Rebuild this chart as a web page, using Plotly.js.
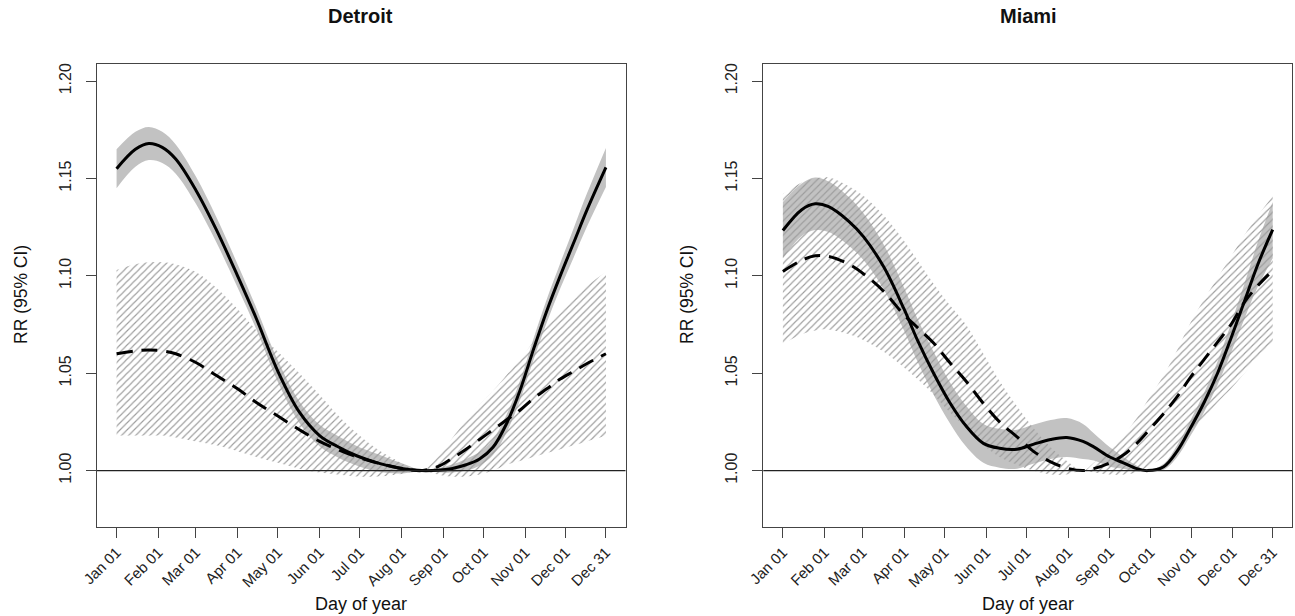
<!DOCTYPE html>
<html>
<head>
<meta charset="utf-8">
<script src="https://cdn.plot.ly/plotly-3.0.1.min.js"></script>
<style>
  html, body { margin: 0; padding: 0; background: #fff; }
  #chart { width: 1295px; height: 616px; }
</style>
</head>
<body>
<div id="chart"></div>
<script>
// ---------- data ----------
const panelTitles = ["Detroit", "Miami"];
const tickDays = [1, 32, 60, 91, 121, 152, 182, 213, 244, 274, 305, 335, 365];
const tickLabels = ["Jan 01", "Feb 01", "Mar 01", "Apr 01", "May 01", "Jun 01", "Jul 01",
                    "Aug 01", "Sep 01", "Oct 01", "Nov 01", "Dec 01", "Dec 31"];
const yTicks = [1.00, 1.05, 1.10, 1.15, 1.20];
const yTickLabels = ["1.00", "1.05", "1.10", "1.15", "1.20"];

// Detroit
const detDays = [1, 15, 25, 35, 45, 60, 75, 91, 105, 121, 137, 152, 165, 180, 195, 210, 220, 228,
                 240, 250, 261, 271, 281, 291, 301, 311, 321, 331, 341, 351, 365];
const detSolid = [1.155, 1.165, 1.168, 1.166, 1.160, 1.144, 1.124, 1.100, 1.078, 1.051, 1.030, 1.018,
                  1.0125, 1.0075, 1.004, 1.0015, 1.0005, 1.000, 1.0002, 1.001, 1.003, 1.006, 1.012,
                  1.024, 1.041, 1.062, 1.082, 1.100, 1.117, 1.134, 1.1557];
const detSolidLo = [1.145, 1.156, 1.1595, 1.158, 1.1525, 1.137, 1.1175, 1.094, 1.0725, 1.0455, 1.0245,
                    1.0125, 1.007, 1.0025, 0.9995, 0.9985, 0.999, 1.000, 0.9992, 0.999, 1.000, 1.0025,
                    1.008, 1.0195, 1.036, 1.0565, 1.076, 1.0935, 1.1095, 1.1255, 1.1457];
const detSolidHi = [1.165, 1.174, 1.1765, 1.174, 1.1675, 1.151, 1.1305, 1.106, 1.0835, 1.0565, 1.0355,
                    1.0235, 1.018, 1.0125, 1.0085, 1.0045, 1.002, 1.000, 1.0012, 1.003, 1.006, 1.0095,
                    1.016, 1.0285, 1.046, 1.0675, 1.088, 1.1065, 1.1245, 1.1425, 1.1657];
const detDash = [1.060, 1.0615, 1.062, 1.0615, 1.060, 1.0555, 1.049, 1.042, 1.035, 1.028, 1.021, 1.015,
                 1.011, 1.007, 1.004, 1.0015, 1.0003, 1.000, 1.002, 1.006, 1.011, 1.016, 1.021, 1.026,
                 1.031, 1.037, 1.042, 1.047, 1.051, 1.055, 1.060];
const detDashLo = [1.018, 1.018, 1.018, 1.018, 1.017, 1.015, 1.013, 1.010, 1.007, 1.004, 1.001, 0.999,
                   0.998, 0.997, 0.997, 0.998, 0.9993, 1.000, 0.998, 0.997, 0.997, 0.998, 1.000, 1.003,
                   1.005, 1.007, 1.009, 1.011, 1.013, 1.015, 1.018];
const detDashHi = [1.103, 1.106, 1.107, 1.107, 1.106, 1.102, 1.094, 1.083, 1.072, 1.061, 1.050, 1.039,
                   1.029, 1.019, 1.011, 1.005, 1.0013, 1.000, 1.007, 1.016, 1.026, 1.034, 1.041, 1.049,
                   1.057, 1.066, 1.074, 1.082, 1.089, 1.095, 1.102];

// Miami
const miaDays = [1, 15, 25, 35, 50, 61, 76, 91, 101, 113, 125, 137, 150, 162, 175, 187, 200, 212, 224,
                 232, 244, 254, 264, 272, 284, 294, 304, 314, 324, 334, 344, 354, 365];
const miaSolid = [1.1233, 1.134, 1.137, 1.1355, 1.128, 1.120, 1.1045, 1.083, 1.067, 1.050, 1.035, 1.023,
                  1.014, 1.0115, 1.011, 1.0135, 1.016, 1.017, 1.015, 1.0122, 1.007, 1.004, 1.001, 1.000,
                  1.002, 1.010, 1.022, 1.035, 1.050, 1.068, 1.087, 1.106, 1.1237];
const miaSolidLo = [1.109, 1.1205, 1.1235, 1.1225, 1.1155, 1.108, 1.093, 1.072, 1.056, 1.039, 1.0245,
                    1.0125, 1.004, 1.0015, 1.001, 1.0035, 1.006, 1.007, 1.006, 1.0052, 1.002, 1.001,
                    0.9995, 1.000, 1.0005, 1.007, 1.018, 1.030, 1.044, 1.0605, 1.078, 1.0945, 1.109];
const miaSolidHi = [1.138, 1.1475, 1.1505, 1.1485, 1.1405, 1.132, 1.116, 1.094, 1.078, 1.061, 1.0455,
                    1.0335, 1.024, 1.0215, 1.021, 1.0235, 1.026, 1.027, 1.024, 1.0192, 1.012, 1.007,
                    1.0025, 1.000, 1.0035, 1.013, 1.026, 1.040, 1.056, 1.0755, 1.096, 1.1175, 1.138];
const miaDash = [1.1023, 1.108, 1.1103, 1.110, 1.106, 1.101, 1.092, 1.080, 1.0735, 1.0655, 1.0555, 1.046,
                 1.0345, 1.025, 1.0173, 1.010, 1.0045, 1.0013, 1.000, 1.001, 1.004, 1.008, 1.014, 1.020,
                 1.0293, 1.038, 1.048, 1.057, 1.066, 1.075, 1.0865, 1.095, 1.1028];
const miaDashLo = [1.065, 1.070, 1.072, 1.0725, 1.070, 1.067, 1.061, 1.053, 1.047, 1.039, 1.030, 1.022,
                   1.013, 1.007, 1.003, 1.000, 0.998, 0.998, 1.000, 0.999, 0.998, 0.998, 0.999, 1.002,
                   1.007, 1.013, 1.020, 1.027, 1.035, 1.042, 1.050, 1.058, 1.065];
const miaDashHi = [1.142, 1.148, 1.150, 1.1505, 1.146, 1.141, 1.131, 1.118, 1.108, 1.096, 1.085, 1.075,
                   1.060, 1.046, 1.033, 1.022, 1.012, 1.005, 1.000, 1.004, 1.011, 1.018, 1.027, 1.036,
                   1.049, 1.062, 1.076, 1.088, 1.099, 1.110, 1.121, 1.131, 1.141];

// ---------- styling ----------
const W = 1295, H = 616;
const FONT = "Liberation Sans, Arial, Helvetica, sans-serif";
const boxColor = "#444";
const grayFill = "#c2c2c2";
const hatchColor = "#9c9c9c";

function panelTraces(days, solid, sLo, sHi, dash, dLo, dHi, xa, ya) {
  const base = { x: days, xaxis: xa, yaxis: ya, mode: "lines", hoverinfo: "skip", showlegend: false };
  return [
    Object.assign({}, base, { y: sLo, line: { width: 0, shape: "spline", color: grayFill } }),
    Object.assign({}, base, { y: sHi, line: { width: 0, shape: "spline", color: grayFill },
                              fill: "tonexty", fillcolor: grayFill }),
    Object.assign({}, base, { y: dLo, line: { width: 0, shape: "spline", color: hatchColor } }),
    Object.assign({}, base, { y: dHi, line: { width: 0, shape: "spline", color: hatchColor },
                              fill: "tonexty", fillcolor: "rgba(0,0,0,0)",
                              fillpattern: { shape: "/", fgcolor: hatchColor, bgcolor: "rgba(0,0,0,0)",
                                             size: 5, solidity: 0.22 } }),
    Object.assign({}, base, { y: solid, line: { width: 3, shape: "spline", color: "#000" } }),
    Object.assign({}, base, { y: dash, line: { width: 3, shape: "spline", color: "#000", dash: "16px,9px" } })
  ];
}

const data = [].concat(
  panelTraces(detDays, detSolid, detSolidLo, detSolidHi, detDash, detDashLo, detDashHi, "x", "y"),
  panelTraces(miaDays, miaSolid, miaSolidLo, miaSolidHi, miaDash, miaDashLo, miaDashHi, "x2", "y2")
);

const yDom = [1 - 526.7 / H, 1 - 64 / H];
const xDom1 = [97 / W, 625.5 / W];
const xDom2 = [763.3 / W, 1292.3 / W];

function xAxis(dom, yanchor) {
  return {
    domain: dom, anchor: yanchor, range: [-13.56, 379.56],
    tickmode: "array", tickvals: tickDays, ticktext: tickLabels, tickangle: -45,
    ticks: "outside", ticklen: 10, tickwidth: 1, tickcolor: boxColor,
    showline: true, mirror: true, linecolor: boxColor, linewidth: 1,
    showgrid: false, zeroline: false, ticklabelstandoff: 0,
    tickfont: { family: FONT, size: 15, color: "#222" }
  };
}
function yAxis(dom, xanchor) {
  return {
    domain: dom, anchor: xanchor, range: [0.9712, 1.2088],
    tickmode: "array", tickvals: yTicks, ticktext: yTickLabels, tickangle: -90,
    ticks: "outside", ticklen: 10, tickwidth: 1, tickcolor: boxColor,
    showline: true, mirror: true, linecolor: boxColor, linewidth: 1,
    showgrid: false, zeroline: false, ticklabelstandoff: 9,
    tickfont: { family: FONT, size: 16, color: "#222" }
  };
}

function ann(text, px, py, size, bold, angle) {
  return {
    text: bold ? "<b>" + text + "</b>" : text, xref: "paper", yref: "paper",
    x: px / W, y: 1 - py / H, xanchor: "center", yanchor: "middle",
    showarrow: false, textangle: angle || 0,
    font: { family: FONT, size: size, color: "#111" }
  };
}

const layout = {
  width: W, height: H, margin: { l: 0, r: 0, t: 0, b: 0 },
  paper_bgcolor: "#fff", plot_bgcolor: "#fff",
  xaxis: xAxis(xDom1, "y"), yaxis: yAxis(yDom, "x"),
  xaxis2: xAxis(xDom2, "y2"), yaxis2: yAxis(yDom, "x2"),
  shapes: [
    { type: "line", xref: "x domain", yref: "y", x0: 0, x1: 1, y0: 1, y1: 1,
      line: { color: "#222", width: 1.2 } },
    { type: "line", xref: "x2 domain", yref: "y2", x0: 0, x1: 1, y0: 1, y1: 1,
      line: { color: "#222", width: 1.2 } }
  ],
  annotations: [
    ann(panelTitles[0], 361, 16, 20, true),
    ann(panelTitles[1], 1028, 16, 20, true),
    ann("Day of year", 361, 604, 18, false),
    ann("Day of year", 1028, 604, 18, false),
    ann("RR (95% CI)", 21, 295, 17.5, false, -90),
    ann("RR (95% CI)", 687, 295, 17.5, false, -90)
  ],
  showlegend: false, hovermode: false
};

Plotly.newPlot("chart", data, layout, { displayModeBar: false, staticPlot: true });
</script>
</body>
</html>
